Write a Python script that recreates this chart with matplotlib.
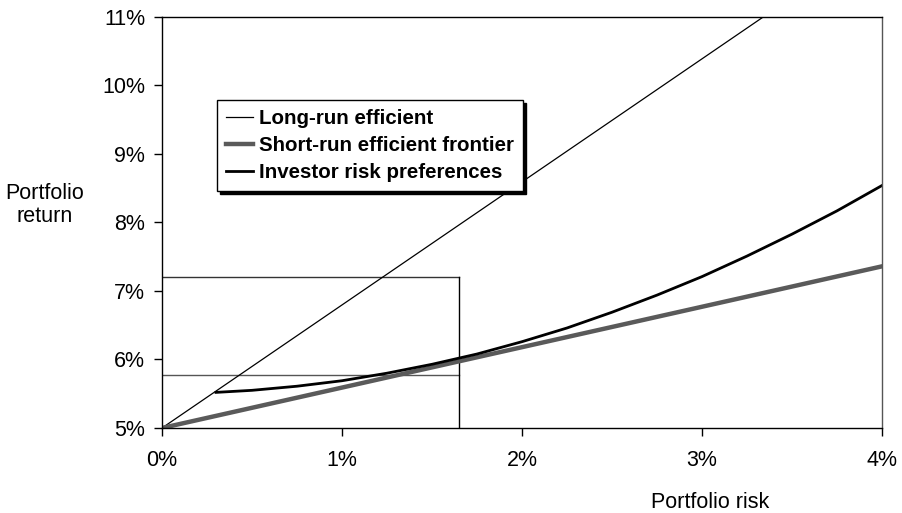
import matplotlib
matplotlib.use("Agg")
import matplotlib.pyplot as plt
from matplotlib.ticker import FuncFormatter

plt.rcParams['font.family'] = ['Liberation Sans', 'DejaVu Sans']

# values in percent
long_run_x = [0.0, 3.34]
long_run_y = [5.0, 11.0]

short_run_x = [0.0, 4.0]
short_run_y = [5.0, 7.36]

investor_x = [0.3, 0.5, 0.75, 1.0, 1.25, 1.5, 1.75, 2.0, 2.25, 2.5, 2.75, 3.0, 3.25, 3.5, 3.75, 4.0]
investor_y = [5.52, 5.55, 5.61, 5.69, 5.80, 5.93, 6.08, 6.26, 6.46, 6.69, 6.94, 7.21, 7.51, 7.83, 8.17, 8.54]

# guide box: risk 1.65%, returns 5.77% and 7.2%
guide_risk = 1.65
guide_low = 5.77
guide_high = 7.2

x_ticks = [0, 1, 2, 3, 4]
y_ticks = [5, 6, 7, 8, 9, 10, 11]

fig = plt.figure(figsize=(9.03, 5.13), dpi=100)
ax = fig.add_axes([162 / 903, 1 - 428 / 513, 720 / 903, 411 / 513])

ax.plot([0, guide_risk], [guide_high, guide_high], color='#333333', lw=1.0)
ax.plot([0, guide_risk], [guide_low, guide_low], color='#555555', lw=1.0)
ax.plot([guide_risk, guide_risk], [5, guide_high], color='black', lw=1.0)

ax.plot(long_run_x, long_run_y, color='black', lw=0.9, label='Long-run efficient')
ax.plot(short_run_x, short_run_y, color='#5a5a5a', lw=3.2, label='Short-run efficient frontier')
ax.plot(investor_x, investor_y, color='black', lw=2.0, label='Investor risk preferences')

ax.set_xlim(0, 4)
ax.set_ylim(5, 11)
ax.set_xticks(x_ticks)
ax.set_yticks(y_ticks)
ax.xaxis.set_major_formatter(FuncFormatter(lambda v, p: f"{v:.0f}%"))
ax.yaxis.set_major_formatter(FuncFormatter(lambda v, p: f"{v:.0f}%"))
ax.tick_params(axis='both', direction='out', length=6, width=1, labelsize=15.5, colors='black')
ax.tick_params(axis='x', pad=10)
ax.tick_params(axis='y', pad=6)
for s in ax.spines.values():
    s.set_linewidth(1)
    s.set_color('black')
ax.spines['right'].set_color('#555555')

fig.text(45 / 903, 1 - 205 / 513, "Portfolio\nreturn", ha='center', va='center', fontsize=15.5, linespacing=1.1)
fig.text(710 / 903, 1 - 503 / 513, "Portfolio risk", ha='center', va='center', fontsize=15.5)

leg = ax.legend(loc='upper left', bbox_to_anchor=(217 / 903, 1 - 100 / 513),
                bbox_transform=fig.transFigure, borderaxespad=0, fancybox=False,
                shadow={'fc': 'black', 'ec': 'black', 'alpha': 1},
                prop={'weight': 'bold', 'size': 14.8}, handlelength=1.3,
                handletextpad=0.3, labelspacing=0.38, borderpad=0.45, framealpha=1)
leg.get_frame().set_edgecolor('black')
leg.get_frame().set_linewidth(1)

fig.savefig("out.png", dpi=100)
